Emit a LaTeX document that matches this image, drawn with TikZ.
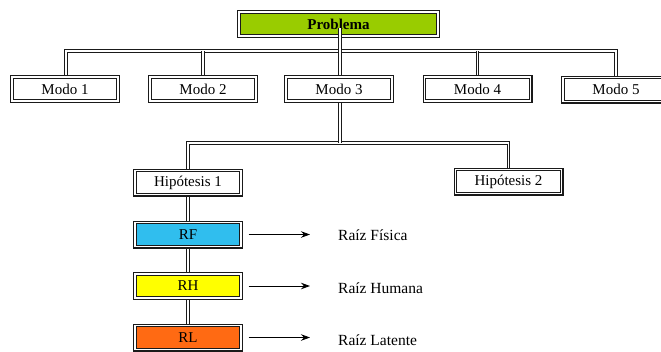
\documentclass[tikz,border=0pt]{standalone}
\usepackage{fontspec}
\setmainfont{Liberation Serif}
\usetikzlibrary{arrows.meta}
\pgfdeclarelayer{background}
\pgfsetlayers{background,main}
\definecolor{cgreen}{HTML}{99CC00}
\definecolor{cblue}{HTML}{30BEEE}
\definecolor{cyellow}{HTML}{FFFF00}
\definecolor{corange}{HTML}{FF6A13}
\definecolor{cline}{HTML}{1A1A1A}
\tikzset{
  dbox/.style={draw=cline, double=white, line width=1.1pt, double distance=1.6pt,
    rectangle, minimum width=106.2pt, minimum height=24.2pt, inner sep=0pt,
    font=\fontsize{15}{17}\selectfont, fill=white},
  conn/.style={draw=cline, double=white, line width=0.9pt, double distance=1.8pt},
  arr/.style={draw=black, line width=0.9pt, -{Stealth[length=9pt,width=6.5pt]}},
  lbl/.style={anchor=west, inner sep=0pt, font=\fontsize{15.5}{17}\selectfont},
}
\begin{document}
\begin{tikzpicture}[x=1pt,y=-1pt]
\useasboundingbox (0,0) rectangle (661,351);
\begin{pgfonlayer}{background}
\fill[white] (0,0) rectangle (661,351);
\end{pgfonlayer}
% coordinates
\coordinate (busA) at (0,51);
\coordinate (busB) at (0,143);
\coordinate (pstub) at (340,28);
% nodes
\node[dbox, minimum width=199.2pt, fill=cgreen, font=\fontsize{15}{17}\selectfont\bfseries] (prob) at (338.5,24) {Problema};
\node[dbox] (m1) at (65,89)    {Modo 1};
\node[dbox] (m2) at (203,89)   {Modo 2};
\node[dbox] (m3) at (339,89)   {Modo 3};
\node[dbox] (m4) at (477.5,89) {Modo 4};
\node[dbox] (m5) at (616,89.5) {Modo 5};
\node[dbox] (h1) at (188,182.5) {Hipótesis 1};
\node[dbox] (h2) at (508.5,181.5) {Hipótesis 2};
\node[dbox, fill=cblue]   (rf) at (188,234.5) {RF};
\node[dbox, fill=cyellow] (rh) at (188,286)   {RH};
\node[dbox, fill=corange] (rl) at (188,337.5) {RL};
% connectors
\begin{pgfonlayer}{background}
\draw[conn] ([xshift=1pt]m1.north) -- ([xshift=1pt]m1.north |- busA) -- (m5.north |- busA) -- (m5.north);
\draw[conn] (m2.north |- busA) -- (m2.north);
\draw[conn] (m4.north |- busA) -- (m4.north);
\draw[conn] (pstub |- busA) -- (pstub |- m3.north);
\draw[conn] (h1.north) -- (h1.north |- busB) -- (h2.north |- busB) -- (h2.north);
\draw[conn] (pstub |- m3.south) -- (pstub |- busB);
\draw[conn] (h1.south) -- (rf.north);
\draw[conn] (rf.south) -- (rh.north);
\draw[conn] (rh.south) -- (rl.north);
\end{pgfonlayer}
\draw[conn] (pstub) -- (pstub |- busA);
% labels
\node[lbl] (lf) at (338,235) {Raíz Física};
\node[lbl] (lh) at (338,288) {Raíz Humana};
\node[lbl] (ll) at (338,340) {Raíz Latente};
\draw[arr, shorten <=7pt, shorten >=28pt] (rf.east) -- (rf.east -| lf.west);
\draw[arr, shorten <=7pt, shorten >=28pt] (rh.east) -- (rh.east -| lh.west);
\draw[arr, shorten <=7pt, shorten >=28pt] (rl.east) -- (rl.east -| ll.west);
\end{tikzpicture}
\end{document}
